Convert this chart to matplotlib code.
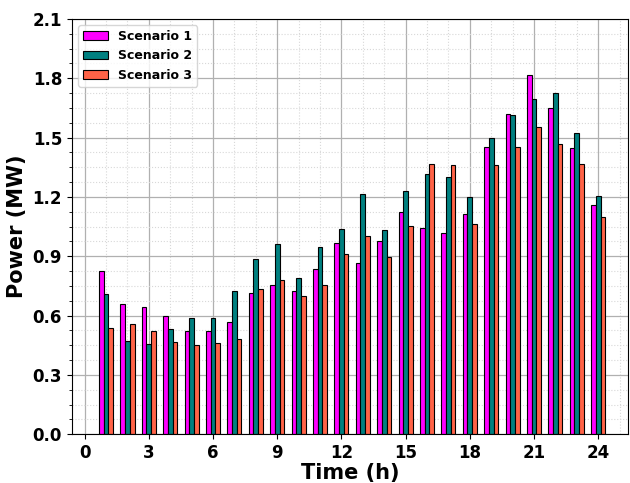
import matplotlib
matplotlib.use("Agg")
import matplotlib.pyplot as plt
import numpy as np
from matplotlib.ticker import MultipleLocator

hours = list(range(1, 25))
scenario1 = [0.826, 0.656, 0.641, 0.599, 0.520, 0.520, 0.568, 0.715, 0.752, 0.724, 0.833, 0.965,
             0.864, 0.978, 1.123, 1.041, 1.019, 1.113, 1.454, 1.621, 1.815, 1.651, 1.446, 1.159]
scenario2 = [0.707, 0.469, 0.455, 0.533, 0.590, 0.590, 0.724, 0.886, 0.960, 0.789, 0.948, 1.037,
             1.216, 1.032, 1.228, 1.316, 1.301, 1.198, 1.496, 1.614, 1.694, 1.724, 1.525, 1.206]
scenario3 = [0.536, 0.555, 0.520, 0.464, 0.449, 0.459, 0.482, 0.735, 0.778, 0.697, 0.756, 0.912,
             1.000, 0.896, 1.051, 1.365, 1.360, 1.061, 1.360, 1.454, 1.555, 1.469, 1.365, 1.100]
labels = ["Scenario 1", "Scenario 2", "Scenario 3"]
colors = ["#FF00FF", "#008080", "#FF6347"]

fig = plt.figure(figsize=(6.3, 4.83), dpi=100)
ax = fig.add_axes([0.114, 0.101, 0.883, 0.860])

x = np.array(hours)
w = 0.22
for i, (vals, lab, col) in enumerate(zip([scenario1, scenario2, scenario3], labels, colors)):
    ax.bar(x + (i - 1) * w, vals, width=w, color=col, edgecolor="black", linewidth=0.8, label=lab)

ax.set_xlim(-0.6, 25.4)
ax.set_ylim(0, 2.1)
ax.xaxis.set_major_locator(MultipleLocator(3))
ax.xaxis.set_minor_locator(MultipleLocator(1))
ax.yaxis.set_major_locator(MultipleLocator(0.3))
ax.yaxis.set_minor_locator(MultipleLocator(0.075))
ax.set_axisbelow(True)
ax.grid(which="major", color="#b0b0b0", linestyle="-", linewidth=0.9)
ax.grid(which="minor", color="#d8d8d8", linestyle=":", linewidth=0.8)
ax.tick_params(axis="x", which="minor", length=0)

ax.set_xlabel("Time (h)", fontsize=15, fontweight="bold", labelpad=1)
ax.set_ylabel("Power (MW)", fontsize=15, fontweight="bold")
ax.tick_params(axis="both", which="major", labelsize=12)
for t in ax.get_xticklabels() + ax.get_yticklabels():
    t.set_fontweight("bold")

ax.legend(loc="upper left", prop={"weight": "bold", "size": 9})
fig.savefig("out.png", dpi=100)
